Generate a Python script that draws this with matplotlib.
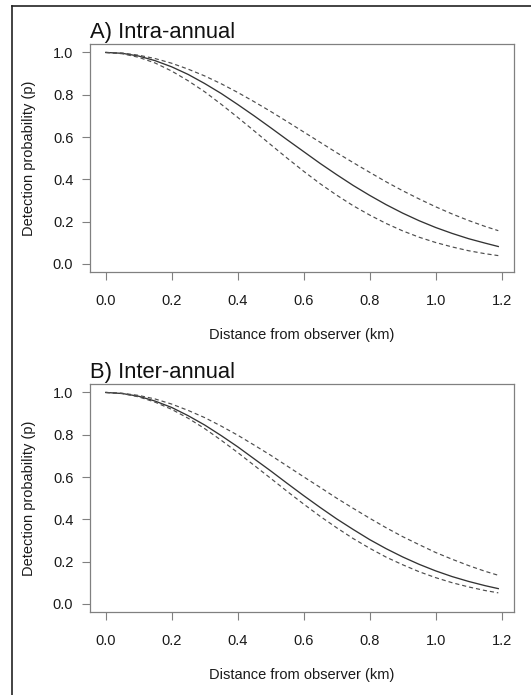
import matplotlib
matplotlib.use('Agg')
import matplotlib.pyplot as plt
from matplotlib.lines import Line2D

plt.rcParams['font.family'] = ['Liberation Sans', 'DejaVu Sans']

# distance from observer (km)
dist = [0.0, 0.05, 0.1, 0.15, 0.2, 0.25, 0.3, 0.35, 0.4, 0.45, 0.5, 0.55, 0.6,
        0.65, 0.7, 0.75, 0.8, 0.85, 0.9, 0.95, 1.0, 1.05, 1.1, 1.15, 1.19]

# A) intra-annual: fitted curve and its two bounds
intra_fit = [1.0, 0.996, 0.983, 0.961, 0.932, 0.896, 0.853, 0.806, 0.754, 0.700, 0.644, 0.587, 0.531,
             0.475, 0.422, 0.371, 0.324, 0.280, 0.240, 0.204, 0.172, 0.144, 0.119, 0.098, 0.082]
intra_upper = [1.0, 0.997, 0.987, 0.971, 0.949, 0.921, 0.889, 0.852, 0.811, 0.767, 0.721, 0.673, 0.624,
               0.575, 0.526, 0.479, 0.433, 0.388, 0.346, 0.307, 0.270, 0.236, 0.205, 0.177, 0.157]
intra_lower = [1.0, 0.994, 0.977, 0.950, 0.912, 0.866, 0.814, 0.755, 0.693, 0.629, 0.564, 0.500, 0.438,
               0.379, 0.325, 0.275, 0.231, 0.191, 0.156, 0.126, 0.101, 0.080, 0.062, 0.048, 0.039]

# B) inter-annual
inter_fit = [1.0, 0.995, 0.982, 0.959, 0.929, 0.890, 0.846, 0.796, 0.743, 0.686, 0.629, 0.570, 0.512,
             0.456, 0.402, 0.352, 0.304, 0.261, 0.222, 0.187, 0.156, 0.129, 0.106, 0.086, 0.072]
inter_upper = [1.0, 0.996, 0.986, 0.969, 0.945, 0.915, 0.881, 0.841, 0.798, 0.751, 0.703, 0.652, 0.601,
               0.551, 0.500, 0.452, 0.405, 0.360, 0.318, 0.280, 0.243, 0.211, 0.181, 0.154, 0.135]
inter_lower = [1.0, 0.995, 0.979, 0.954, 0.920, 0.878, 0.829, 0.774, 0.716, 0.655, 0.594, 0.532, 0.472,
               0.414, 0.360, 0.309, 0.263, 0.221, 0.185, 0.152, 0.124, 0.100, 0.080, 0.063, 0.052]

xticks = [0.0, 0.2, 0.4, 0.6, 0.8, 1.0, 1.2]
yticks = [0.0, 0.2, 0.4, 0.6, 0.8, 1.0]

W, H = 531, 695
fig = plt.figure(figsize=(W / 100, H / 100), dpi=100)

panels = [
    ('A) Intra-annual', intra_fit, intra_upper, intra_lower, 44),
    ('B) Inter-annual', inter_fit, inter_upper, inter_lower, 384),
]

for title, fit, up, lo, top in panels:
    left, right, bottom = 90, 514, top + 228.3
    ax = fig.add_axes([left / W, 1 - bottom / H, (right - left) / W, (bottom - top) / H])
    ax.plot(dist, fit, color='#333333', lw=0.95)
    ax.plot(dist, up, color='#4d4d4d', lw=0.85, dashes=(3.5, 2.5))
    ax.plot(dist, lo, color='#4d4d4d', lw=0.85, dashes=(3.5, 2.5))
    ax.set_xlim(-0.0476, 1.2376)
    ax.set_ylim(-0.04, 1.04)
    ax.set_xticks(xticks)
    ax.set_yticks(yticks)
    ax.set_xticklabels(['%.1f' % t for t in xticks])
    ax.set_yticklabels(['%.1f' % t for t in yticks])
    for s in ax.spines.values():
        s.set_color('#808080')
        s.set_linewidth(0.9)
    ax.tick_params(axis='x', length=6, width=0.8, color='#808080', pad=9.5,
                   labelsize=10.5, labelcolor='#1a1a1a')
    ax.tick_params(axis='y', length=6, width=0.8, color='#808080', pad=6,
                   labelsize=10.5, labelcolor='#1a1a1a')
    ax.set_xlabel('Distance from observer (km)', fontsize=10.5, color='#1a1a1a')
    ax.set_ylabel('Detection probability (p)', fontsize=10.5, color='#1a1a1a')
    ax.xaxis.set_label_coords(0.5, -0.245)
    ax.yaxis.set_label_coords(-0.127, 0.5)
    ax.set_title(title, loc='left', fontsize=15.8, color='#111111', pad=4.5)

# frame lines along top and left edge
fig.add_artist(Line2D([11.5 / W, 1.0], [1 - 6 / H, 1 - 6 / H], color='#222222', lw=1.2))
fig.add_artist(Line2D([11.5 / W, 11.5 / W], [0.0, 1 - 6 / H], color='#222222', lw=1.2))

fig.savefig('out.png', dpi=100)
